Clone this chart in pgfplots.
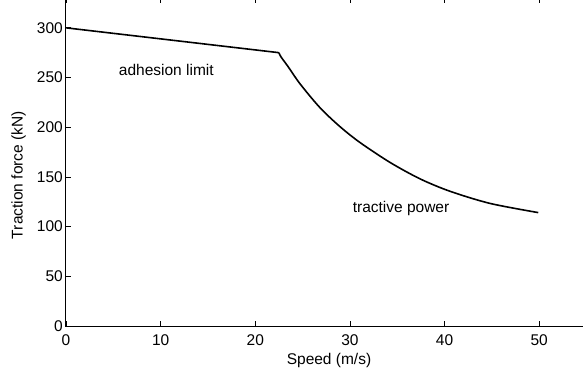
\documentclass[border=0pt]{standalone}
\usepackage{pgfplots}
\pgfplotsset{compat=1.18}
\usepackage{fontspec}
\setmainfont{Liberation Sans}
\begin{document}
\begin{tikzpicture}[x=1pt,y=1pt]
\begin{axis}[
  at={(0,0)}, anchor=south west,
  scale only axis, width=530pt, height=328pt,
  xmin=0, xmax=56, ymin=0, ymax=330,
  xtick={0,10,...,50}, ytick={0,50,...,300},
  tick align=inside, major tick length=5pt,
  axis line style={line width=1pt}, tick style={line width=0.8pt, black},
  font=\fontsize{15.5}{17}\selectfont,
  /pgf/number format/assume math mode=true,
  xticklabel style={inner sep=0pt, yshift=-8pt},
  yticklabel style={inner sep=0pt, xshift=-3pt},
  xlabel={Speed (m/s)}, ylabel={Traction force (kN)},
  xlabel style={at={(axis description cs:0.5,0)}, anchor=north, yshift=-27pt, inner sep=0pt, xshift=-2pt},
  ylabel style={at={(axis description cs:0,0.46)}, anchor=south, yshift=40pt, inner sep=0pt},
  clip=false,
]
\addplot[black, line width=1.6pt] coordinates {
(0,300) (22.5,275)
};
\addplot[black, line width=1.6pt, smooth, tension=0.5] coordinates {
(22.5,275) (22.7,271) (23.5,260.5) (24.74,243.5) (26.85,219.5) (28.96,200.5) (31.08,184.5)
(34.25,164.5) (37.42,148) (40.59,135.5) (44.82,123.3) (49.9,114.1)
};
\node[anchor=center] at (axis cs:10.6,258) {adhesion limit};
\node[anchor=center] at (axis cs:35.4,117.8) {tractive power};
\end{axis}
\pgfresetboundingbox
\useasboundingbox (-66,-50) rectangle (517,326);
\end{tikzpicture}
\end{document}
